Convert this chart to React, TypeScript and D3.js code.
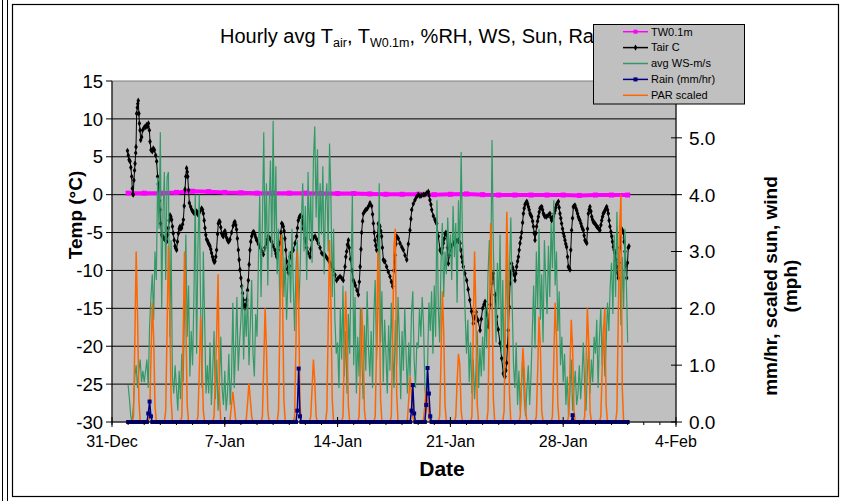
import React from "react";
import * as d3 from "d3";

// ---------------- DATA ----------------
// time unit: days since 31-Dec 00:00
const X_TICK_DAYS = [0, 7, 14, 21, 28, 35];
const X_TICK_LABELS = ["31-Dec", "7-Jan", "14-Jan", "21-Jan", "28-Jan", "4-Feb"];
const Y_LEFT_TICKS = [15, 10, 5, 0, -5, -10, -15, -20, -25, -30];
const Y_RIGHT_TICKS = [0, 1, 2, 3, 4, 5, 6];
const Y_RIGHT_LABELS = ["0.0", "1.0", "2.0", "3.0", "4.0", "5.0", ""];

// Water temperature at 0.1 m (deg C), one value per day starting 1-Jan
const TW_START_DAY = 1;
const TW01M = [
  0.2, 0.2, 0.2, 0.3, 0.45, 0.4, 0.3, 0.25, 0.2, 0.2, 0.2, 0.2, 0.15, 0.15, 0.15, 0.1,
  0.05, 0.05, 0.05, 0.0, 0.05, 0.1, 0.0, -0.05, -0.05, -0.05, -0.05, -0.05, -0.1, -0.05, -0.05, -0.05,
];

// Air temperature (deg C): [day, value]
const TAIR: [number, number][] = [
  [0.96,5.8],[1.01,5.2],[1.06,4.6],[1.12,4.4],[1.17,3.6],[1.22,2.4],[1.26,0.8],[1.29,0.1],[1.32,0.0],[1.36,1.9],
  [1.40,3.2],[1.43,4.1],[1.47,5.5],[1.49,6.3],[1.53,10.7],[1.57,11.5],[1.60,12.0],[1.63,12.4],[1.67,10.7],[1.70,9.4],
  [1.74,8.5],[1.78,7.2],[1.84,7.6],[1.90,8.5],[1.98,8.8],[2.05,9.0],[2.10,8.9],[2.15,9.2],[2.22,9.0],[2.26,9.4],
  [2.32,8.5],[2.36,7.0],[2.42,5.9],[2.50,5.7],[2.56,6.1],[2.63,5.9],[2.71,5.2],[2.77,4.4],[2.83,2.4],[2.87,1.4],
  [2.91,0.6],[2.95,-0.8],[2.98,-2.0],[3.02,-3.8],[3.08,-5.3],[3.13,-5.5],[3.18,-5.7],[3.24,-5.8],[3.29,-5.9],[3.34,-6.0],
  [3.39,-6.2],[3.45,-5.3],[3.50,-4.4],[3.55,-3.4],[3.60,-2.7],[3.65,-2.9],[3.70,-3.3],[3.75,-4.2],[3.80,-5.1],[3.86,-6.0],
  [3.91,-6.8],[3.96,-7.1],[4.01,-7.3],[4.06,-6.2],[4.12,-5.1],[4.17,-4.5],[4.22,-4.2],[4.27,-4.5],[4.32,-4.4],[4.38,-3.9],
  [4.43,-3.3],[4.48,-1.5],[4.53,0.7],[4.58,2.4],[4.63,3.5],[4.67,3.0],[4.70,2.4],[4.75,0.6],[4.80,-1.1],[4.88,-1.6],
  [4.95,-2.0],[5.01,-2.2],[5.08,-2.4],[5.15,-2.5],[5.20,-2.3],[5.25,-2.2],[5.30,-2.5],[5.36,-2.7],[5.46,-2.2],[5.56,-1.8],
  [5.62,-2.0],[5.67,-2.5],[5.72,-3.4],[5.77,-4.4],[5.82,-5.3],[5.87,-5.9],[5.93,-6.1],[5.98,-6.4],[6.03,-6.6],[6.08,-6.8],
  [6.13,-7.2],[6.18,-7.7],[6.24,-8.2],[6.29,-8.6],[6.34,-8.9],[6.39,-8.8],[6.44,-8.2],[6.49,-7.3],[6.55,-5.2],[6.60,-3.8],
  [6.65,-3.5],[6.70,-3.6],[6.75,-4.3],[6.80,-5.1],[6.86,-5.4],[6.91,-5.5],[6.96,-5.0],[7.01,-4.8],[7.06,-5.2],[7.11,-5.7],
  [7.17,-6.0],[7.22,-6.2],[7.27,-6.1],[7.32,-5.9],[7.42,-5.0],[7.52,-4.1],[7.58,-3.7],[7.63,-3.6],[7.68,-4.0],[7.73,-4.6],
  [7.78,-5.8],[7.84,-7.3],[7.89,-8.6],[7.94,-9.9],[8.00,-11.0],[8.05,-12.1],[8.10,-13.0],[8.15,-13.9],[8.20,-14.6],[8.25,-15.0],
  [8.30,-14.6],[8.36,-13.9],[8.41,-12.6],[8.46,-11.3],[8.51,-9.2],[8.56,-7.3],[8.61,-6.2],[8.67,-5.5],[8.72,-5.1],[8.77,-4.9],
  [8.82,-5.0],[8.87,-5.3],[8.93,-5.7],[8.98,-6.0],[9.08,-6.5],[9.18,-6.9],[9.29,-7.4],[9.39,-7.9],[9.49,-7.0],[9.60,-6.4],
  [9.65,-5.9],[9.70,-5.5],[9.80,-5.8],[9.91,-6.2],[10.01,-6.8],[10.11,-7.3],[10.17,-7.8],[10.22,-8.2],[10.32,-7.3],[10.42,-6.4],
  [10.48,-5.0],[10.53,-3.8],[10.58,-3.9],[10.63,-4.2],[10.68,-4.8],[10.73,-5.8],[10.78,-7.3],[10.84,-8.8],[10.89,-9.8],[10.94,-10.3],
  [11.00,-9.4],[11.05,-8.2],[11.15,-7.6],[11.25,-7.3],[11.36,-6.4],[11.46,-5.5],[11.51,-4.4],[11.56,-3.4],[11.62,-3.0],[11.67,-2.8],
  [11.72,-2.8],[11.77,-2.9],[11.82,-3.6],[11.87,-4.5],[11.97,-5.8],[12.08,-7.0],[12.18,-7.7],[12.29,-8.2],[12.34,-7.2],[12.39,-6.0],
  [12.49,-5.7],[12.60,-5.5],[12.70,-5.9],[12.80,-6.4],[12.91,-7.0],[13.01,-7.7],[13.11,-7.9],[13.22,-8.0],[13.32,-8.3],[13.42,-8.6],
  [13.52,-9.0],[13.63,-9.4],[13.73,-9.9],[13.84,-10.6],[13.94,-11.3],[14.04,-11.0],[14.15,-10.8],[14.25,-11.0],[14.35,-11.3],[14.46,-9.5],
  [14.51,-8.2],[14.56,-7.5],[14.61,-6.6],[14.67,-6.0],[14.72,-7.0],[14.80,-8.5],[14.89,-10.0],[14.98,-11.3],[15.04,-11.6],[15.10,-12.0],
  [15.20,-12.6],[15.29,-13.2],[15.35,-11.5],[15.40,-9.5],[15.45,-7.2],[15.49,-5.0],[15.55,-3.5],[15.60,-2.5],[15.68,-2.2],[15.75,-2.0],
  [15.85,-1.8],[15.93,-1.5],[16.01,-1.1],[16.11,-1.5],[16.17,-2.6],[16.22,-3.8],[16.27,-5.0],[16.32,-6.0],[16.37,-6.7],[16.42,-7.3],
  [16.48,-5.5],[16.53,-3.8],[16.58,-4.0],[16.63,-4.2],[16.68,-4.8],[16.73,-5.5],[16.78,-7.0],[16.84,-8.6],[16.89,-8.8],[16.94,-8.8],
  [17.04,-9.5],[17.15,-10.2],[17.25,-10.8],[17.34,-11.5],[17.42,-12.1],[17.49,-10.0],[17.56,-8.0],[17.62,-6.5],[17.67,-5.5],[17.77,-5.8],
  [17.87,-6.4],[17.98,-6.9],[18.08,-7.3],[18.18,-8.0],[18.29,-8.6],[18.39,-6.5],[18.49,-4.7],[18.55,-3.2],[18.60,-2.0],[18.70,-1.2],
  [18.80,-0.7],[18.90,-0.3],[19.01,0.0],[19.11,-0.2],[19.21,-0.1],[19.32,0.0],[19.42,0.0],[19.52,0.2],[19.63,0.4],[19.68,-0.1],
  [19.73,-0.7],[19.79,-1.3],[19.84,-2.0],[19.94,-2.8],[20.04,-3.3],[20.10,-3.6],[20.15,-3.8],[20.25,-5.5],[20.36,-7.3],[20.41,-7.5],
  [20.46,-7.7],[20.51,-7.0],[20.56,-6.4],[20.62,-5.8],[20.67,-5.2],[20.72,-5.0],[20.77,-5.2],[20.82,-7.0],[20.87,-9.1],[20.93,-8.0],
  [20.98,-7.3],[21.08,-6.8],[21.18,-6.4],[21.28,-6.2],[21.39,-6.1],[21.49,-6.0],[21.55,-6.2],[21.60,-6.4],[21.65,-7.3],[21.70,-8.2],
  [21.75,-8.9],[21.80,-9.5],[21.90,-10.4],[22.01,-11.3],[22.10,-12.5],[22.20,-13.9],[22.31,-15.4],[22.42,-17.0],[22.51,-16.2],[22.60,-15.5],
  [22.72,-16.6],[22.84,-17.9],[22.92,-16.4],[23.00,-15.0],[23.08,-14.5],[23.15,-14.1],[23.25,-15.8],[23.35,-17.4],[23.46,-14.5],[23.56,-11.7],
  [23.61,-11.0],[23.66,-10.4],[23.77,-13.2],[23.87,-16.1],[23.97,-17.8],[24.08,-19.6],[24.18,-21.6],[24.28,-23.6],[24.34,-23.9],[24.39,-24.0],
  [24.44,-23.2],[24.49,-22.2],[24.54,-20.0],[24.59,-17.9],[24.65,-14.8],[24.70,-11.7],[24.75,-10.4],[24.80,-9.1],[24.86,-9.6],[24.91,-10.0],
  [24.96,-10.6],[25.01,-11.3],[25.06,-10.4],[25.11,-9.5],[25.17,-8.8],[25.22,-8.2],[25.27,-7.3],[25.32,-6.4],[25.37,-5.7],[25.42,-5.0],
  [25.48,-3.7],[25.53,-2.5],[25.58,-1.8],[25.63,-1.3],[25.69,-1.1],[25.74,-0.9],[25.79,-1.2],[25.84,-1.6],[25.89,-2.0],[25.94,-2.5],
  [25.99,-2.7],[26.04,-2.9],[26.10,-3.5],[26.15,-4.2],[26.20,-5.1],[26.25,-6.0],[26.30,-5.1],[26.35,-4.2],[26.41,-3.5],[26.46,-2.9],
  [26.51,-2.3],[26.56,-1.8],[26.61,-1.7],[26.67,-1.6],[26.72,-2.0],[26.77,-2.5],[26.82,-2.7],[26.87,-2.9],[26.97,-2.9],[27.08,-2.7],
  [27.18,-2.5],[27.23,-3.0],[27.28,-3.4],[27.34,-3.1],[27.39,-2.9],[27.44,-2.5],[27.49,-2.1],[27.54,-1.7],[27.59,-1.3],[27.65,-1.1],
  [27.70,-0.9],[27.75,-1.7],[27.80,-2.5],[27.85,-3.1],[27.90,-3.8],[27.96,-4.5],[28.01,-5.1],[28.06,-5.5],[28.11,-6.0],[28.16,-6.5],
  [28.21,-6.9],[28.27,-8.2],[28.32,-9.5],[28.37,-9.7],[28.42,-9.9],[28.47,-7.3],[28.52,-4.7],[28.58,-3.1],[28.63,-1.6],[28.68,-1.5],
  [28.73,-1.4],[28.79,-1.8],[28.84,-2.1],[28.89,-2.5],[28.94,-2.9],[28.99,-3.2],[29.04,-3.4],[29.10,-3.8],[29.15,-4.2],[29.20,-4.5],
  [29.25,-4.7],[29.30,-5.4],[29.35,-6.0],[29.41,-6.2],[29.46,-6.4],[29.51,-4.5],[29.56,-2.5],[29.61,-2.0],[29.66,-1.6],[29.72,-2.2],
  [29.77,-2.9],[29.82,-3.3],[29.87,-3.6],[29.92,-3.7],[29.97,-3.8],[30.03,-4.0],[30.08,-4.2],[30.13,-4.3],[30.18,-4.4],[30.23,-4.6],
  [30.28,-4.7],[30.34,-4.0],[30.39,-3.4],[30.44,-2.9],[30.49,-2.5],[30.54,-2.3],[30.59,-2.1],[30.65,-1.8],[30.70,-1.6],[30.75,-2.0],
  [30.80,-2.5],[30.85,-3.4],[30.90,-4.2],[30.96,-4.9],[31.01,-5.5],[31.06,-6.2],[31.11,-6.9],[31.16,-7.3],[31.21,-7.7],[31.27,-8.6],
  [31.32,-9.5],[31.37,-10.3],[31.42,-11.0],[31.47,-9.0],[31.52,-7.0],[31.57,-5.7],[31.62,-4.5],[31.67,-4.7],[31.73,-5.0],[31.78,-6.2],
  [31.83,-7.5],[31.89,-9.3],[31.94,-11.0],[31.99,-9.0],[32.04,-7.0],[32.08,-6.8],
];

// Secondary-axis series on a 2-hour grid starting 1-Jan 00:00 (12 values per day)
const GRID_START_DAY = 1;
const GRID_STEP_HOURS = 2;

// avg wind speed (right axis)
const WS = [
  0.65,0.4,0.1,0.0,0.3,0.8,1.0,0.6,0.9,1.1,0.7,0.9,
  0.7,0.9,1.1,0.6,1.7,2.2,2.6,1.8,3.0,2.5,4.3,3.4,
  5.1,2.0,3.7,4.4,2.5,4.3,4.4,1.5,3.2,0.8,0.5,1.0,
  0.6,0.2,0.9,0.4,1.2,0.7,2.0,3.3,1.5,2.4,0.8,1.6,
  1.0,2.2,4.0,1.2,3.1,4.0,2.0,0.6,3.0,1.8,0.5,1.0,
  0.5,1.4,0.3,0.9,1.6,0.4,1.1,0.2,0.7,1.5,0.6,0.3,
  0.9,0.2,0.5,1.2,0.3,0.8,2.1,0.6,1.3,2.2,0.9,1.4,
  1.8,2.4,1.1,2.0,1.5,2.3,1.0,1.7,2.5,1.2,0.8,1.9,
  1.5,2.8,4.0,2.2,3.5,5.1,3.0,4.2,2.4,3.8,4.6,2.9,
  5.3,3.1,4.5,2.6,3.4,2.0,2.8,3.3,2.2,2.9,1.8,2.5,
  3.0,2.1,3.4,2.4,1.6,2.7,3.2,2.0,2.6,3.5,4.2,3.0,
  3.8,2.5,4.4,3.2,4.0,2.8,4.6,5.2,3.6,4.8,3.1,4.2,
  3.3,4.5,2.6,3.9,4.2,3.0,4.9,4.0,2.2,3.4,1.8,1.2,
  1.4,0.6,2.0,1.1,2.4,0.8,1.6,0.5,1.9,1.2,2.6,4.0,
  1.0,2.2,0.5,1.5,0.8,2.0,1.2,0.4,1.7,0.9,2.3,1.3,
  0.8,1.6,0.6,1.9,2.5,1.1,2.0,4.2,1.4,2.3,0.7,1.8,
  1.2,0.5,1.7,0.9,2.1,1.3,0.6,1.8,1.0,2.2,1.5,0.4,
  1.6,0.9,2.0,1.2,0.5,1.4,0.8,1.9,2.3,1.1,0.6,1.4,
  1.3,2.0,1.5,2.2,1.7,0.6,0.3,1.0,2.1,1.6,2.3,1.2,
  2.4,1.5,3.9,2.0,1.4,2.8,3.5,2.2,3.0,2.6,3.6,2.9,
  3.3,2.5,3.8,2.9,3.5,2.1,3.9,3.0,4.75,3.2,2.6,1.9,
  1.2,1.8,0.7,1.4,0.5,1.1,0.4,0.9,1.6,0.6,1.3,0.8,
  1.5,0.9,2.0,1.3,2.6,3.2,2.4,4.96,3.0,2.2,1.4,2.8,
  2.0,3.3,1.2,2.5,0.8,1.9,3.0,1.5,2.7,3.6,2.1,1.0,
  0.6,1.4,0.3,0.9,0.2,0.7,1.2,0.4,0.1,0.6,1.0,0.3,
  0.8,1.6,2.4,1.3,3.0,2.0,3.4,1.8,2.6,1.4,3.2,2.5,
  1.9,3.1,2.2,3.5,2.7,3.9,2.4,3.0,1.6,2.3,1.0,1.5,
  0.7,1.2,0.3,0.8,0.1,0.5,1.1,0.2,0.6,0.9,0.3,0.5,
  1.0,0.4,0.8,1.4,0.6,0.2,0.9,1.3,0.5,1.1,0.7,1.5,
  1.2,1.8,0.6,1.5,2.0,1.0,1.7,0.8,1.4,2.1,1.6,2.4,
  2.8,1.9,3.3,2.2,3.7,2.6,3.1,1.7,2.9,2.0,3.4,2.5,
  1.4,
];

// PAR scaled (right axis)
const PAR = [
  0,0,0,0,0.1,1.4,3.0,1.9,0.4,0,0,0,
  0,0,0,0,0.1,1.1,2.1,1.5,0.3,0,0,0,
  0,0,0,0,0.2,1.6,3.1,2.0,0.4,0,0,0,
  0,0,0,0,0.1,1.5,3.0,1.8,0.3,0,0,0,
  0,0,0,0,0.1,0.9,1.85,1.1,0.2,0,0,0,
  0,0,0,0,0.1,0.8,1.6,2.6,0.5,0,0,0,
  0,0,0,0,0.05,0.3,0.53,0.3,0.05,0,0,0,
  0,0,0,0,0.05,0.35,0.68,0.4,0.1,0,0,0,
  0,0,0,0,0.1,1.0,2.0,1.3,0.2,0,0,0,
  0,0,0,0,0.2,1.7,3.3,2.2,0.4,0,0,0,
  0,0,0,0,0.1,1.4,3.0,2.0,0.3,0,0,0,
  0,0,0,0,0.1,0.6,1.1,0.7,0.1,0,0,0,
  0,0,0,0,0.2,1.7,3.2,2.1,0.4,0,0,0,
  0,0,0,0,0.1,1.2,2.3,1.5,0.3,0,0,0,
  0,0,0,0,0.1,1.0,2.0,1.4,0.2,0,0,0,
  0,0,0,0,0.1,1.3,3.0,2.4,0.4,0,0,0,
  0,0,0,0,0.1,1.5,3.1,3.4,0.5,0,0,0,
  0,0,0,0,0.05,0.4,0.8,0.5,0.1,0,0,0,
  0,0,0,0,0.05,0.3,0.6,0.4,0.1,0,0,0,
  0,0,0,0,0.1,1.1,2.3,1.6,0.3,0,0,0,
  0,0,0,0,0.1,0.7,1.2,1.0,0.2,0,0,0,
  0,0,0,0,0.1,1.6,3.0,1.9,0.3,0,0,0,
  0,0,0,0,0.2,1.8,3.5,2.3,0.4,0,0,0,
  0,0,0,0,0.2,1.9,3.7,2.5,0.5,0,0,0,
  0,0,0,0,0.1,0.7,1.3,0.9,0.2,0,0,0,
  0,0,0,0,0.1,0.9,1.85,1.3,0.2,0,0,0,
  0,0,0,0,0.1,1.1,2.1,1.5,0.3,0,0,0,
  0,0,0,0,0.1,0.9,1.8,1.3,0.2,0,0,0,
  0,0,0,0,0.1,1.0,2.0,1.4,0.2,0,0,0,
  0,0,0,0,0.1,0.9,1.6,2.0,0.3,0,0,0,
  0,0,0,0,0.2,1.8,3.4,4.0,0.6,0,0,0,
  0,
];

// Rain (mm/hr, right axis)
const RAIN = [
  0,0,0,0,0,0,0,0,0,0,0,0,
  0,0,0,0.15,0.36,0.1,0,0,0,0,0,0,
  0,0,0,0,0,0,0,0,0,0,0,0,
  0,0,0,0,0,0,0,0,0,0,0,0,
  0,0,0,0,0,0,0,0,0,0,0,0,
  0,0,0,0,0,0,0,0,0,0,0,0,
  0,0,0,0,0,0,0,0,0,0,0,0,
  0,0,0,0,0,0,0,0,0,0,0,0,
  0,0,0,0,0,0,0,0,0,0,0,0,
  0,0,0,0,0,0,0,0,0,0,0,0,
  0,0,0,0,0,0,0.2,0.94,0.1,0,0,0,
  0,0,0,0,0,0,0,0,0,0,0,0,
  0,0,0,0,0,0,0,0,0,0,0,0,
  0,0,0,0,0,0,0,0,0,0,0,0,
  0,0,0,0,0,0,0,0,0,0,0,0,
  0,0,0,0,0,0,0,0,0,0,0,0,
  0,0,0,0,0,0,0,0,0,0,0,0,
  0,0,0,0,0,0,0,0.2,0.65,0.15,0,0,
  0,0,0,0,0,0,0.3,0.95,0.5,0.1,0,0,
  0,0,0,0,0,0,0,0,0,0,0,0,
  0,0,0,0,0,0,0,0,0,0,0,0,
  0,0,0,0,0,0,0,0,0,0,0,0,
  0,0,0,0,0,0,0,0,0,0,0,0,
  0,0,0,0,0,0,0,0,0,0,0,0,
  0,0,0,0,0,0,0,0,0,0,0,0,
  0,0,0,0,0,0,0,0,0,0,0,0,
  0,0,0,0,0,0,0,0,0,0,0,0,
  0,0,0,0,0,0,0,0.12,0,0,0,0,
  0,0,0,0,0,0,0,0,0,0,0,0,
  0,0,0,0,0,0,0,0,0,0,0,0,
  0,0,0,0,0,0,0,0,0,0,0,0,
  0,
];

const LEGEND = [
  { label: "TW0.1m", color: "#FF00FF", marker: "square" },
  { label: "Tair C", color: "#000000", marker: "diamond" },
  { label: "avg WS-m/s", color: "#339966", marker: "none" },
  { label: "Rain (mm/hr)", color: "#000080", marker: "square" },
  { label: "PAR scaled", color: "#FF6600", marker: "none" },
];

// ---------------- CHART ----------------
const FONT = "'Liberation Sans', Arial, Helvetica, sans-serif";

export default function App() {
  const W = 842, H = 501;
  const pl = 112, pr = 676, pt = 81, pb = 422;

  const x = d3.scaleLinear().domain([0, 35]).range([pl, pr]);
  const yL = d3.scaleLinear().domain([-30, 15]).range([pb, pt]);
  const yR = d3.scaleLinear().domain([0, 6]).range([pb, pt]);

  const gridDay = (i: number) => GRID_START_DAY + (i * GRID_STEP_HOURS) / 24;

  const tw: [number, number][] = TW01M.map((v, i) => [TW_START_DAY + i, v]);
  const lineL = d3.line<[number, number]>().x((d) => x(d[0])).y((d) => yL(d[1]));
  const lineR = d3.line<number>().x((_, i) => x(gridDay(i))).y((d) => yR(d));

  const diamond = d3.symbol().type(d3.symbolDiamond).size(11)() as string;

  const minorDays = d3.range(0, 36);

  return (
    <svg width={W} height={H} style={{ position: "absolute", left: 0, top: 0, background: "#fff" }} fontFamily={FONT}>
      <defs>
        <clipPath id="plotclip">
          <rect x={pl} y={pt - 2} width={pr - pl} height={pb - pt + 4} />
        </clipPath>
      </defs>
      {/* outer frames */}
      <line x1={2.5} y1={0} x2={2.5} y2={H} stroke="#000" strokeWidth={1} />
      <line x1={7.5} y1={0} x2={7.5} y2={H} stroke="#000" strokeWidth={1} />
      <rect x={12.5} y={4.5} width={826} height={492} fill="#fff" stroke="#000" strokeWidth={1.2} />

      {/* title */}
      <text x={220} y={43} fontSize={20} fill="#000">
        Hourly avg T<tspan fontSize={12.5} dy={4}>air</tspan>
        <tspan dy={-4}>, T</tspan>
        <tspan fontSize={12.5} dy={4}>W0.1m</tspan>
        <tspan dy={-4}>, %RH, WS, Sun, Rain</tspan>
      </text>

      {/* plot area */}
      <rect x={pl} y={pt} width={pr - pl} height={pb - pt} fill="#C0C0C0" stroke="#808080" strokeWidth={1} />
      {Y_LEFT_TICKS.filter((t) => t > -30 && t < 15).map((t) => (
        <line key={"g" + t} x1={pl} x2={pr} y1={yL(t)} y2={yL(t)} stroke="#000" strokeWidth={1} />
      ))}

      {/* series */}
      <g clipPath="url(#plotclip)">
        <path d={lineL(tw) || ""} fill="none" stroke="#FF00FF" strokeWidth={4} />
        {tw.map((d, i) => (
          <rect key={"tw" + i} x={x(d[0]) - 2.5} y={yL(d[1]) - 2.5} width={5} height={5} fill="#FF00FF" />
        ))}
        <path d={lineL(TAIR) || ""} fill="none" stroke="#000" strokeWidth={1} />
        {TAIR.map((d, i) => (
          <path key={"ta" + i} d={diamond} transform={`translate(${x(d[0])},${yL(d[1])})`} fill="#000" />
        ))}
        <path d={lineR(WS) || ""} fill="none" stroke="#339966" strokeWidth={1.2} />
        <path d={lineR(PAR) || ""} fill="none" stroke="#FF6600" strokeWidth={1.5} />
        <path d={lineR(RAIN) || ""} fill="none" stroke="#000080" strokeWidth={1.5} />
        {RAIN.map((v, i) => (
          <rect key={"r" + i} x={x(gridDay(i)) - 2} y={yR(v) - 2} width={4} height={4} fill="#000080" />
        ))}
      </g>

      {/* axes */}
      <line x1={pl} x2={pl} y1={pt} y2={pb} stroke="#000" />
      <line x1={pr} x2={pr} y1={pt} y2={pb} stroke="#000" />
      <line x1={pl} x2={pr} y1={pb} y2={pb} stroke="#000" />
      {Y_LEFT_TICKS.map((t) => (
        <g key={"yl" + t}>
          <line x1={pl - 6} x2={pl} y1={yL(t)} y2={yL(t)} stroke="#000" />
          <text x={pl - 9} y={yL(t)} dy="0.36em" textAnchor="end" fontSize={18.5}>{t}</text>
        </g>
      ))}
      {Y_RIGHT_TICKS.map((t, i) => (
        <g key={"yr" + t}>
          <line x1={pr - 5} x2={pr + 6} y1={yR(t)} y2={yR(t)} stroke="#000" />
          {Y_RIGHT_LABELS[i] && (
            <text x={pr + 13} y={yR(t)} dy="0.36em" textAnchor="start" fontSize={19}>{Y_RIGHT_LABELS[i]}</text>
          )}
        </g>
      ))}
      {minorDays.map((d) => (
        <line key={"mx" + d} x1={x(d)} x2={x(d)} y1={pb} y2={pb + 3} stroke="#000" />
      ))}
      {X_TICK_DAYS.map((d, i) => (
        <g key={"xt" + d}>
          <line x1={x(d)} x2={x(d)} y1={pb - 5} y2={pb + 5} stroke="#000" />
          <text x={x(d)} y={447} textAnchor="middle" fontSize={16}>{X_TICK_LABELS[i]}</text>
        </g>
      ))}

      {/* axis titles */}
      <text x={442} y={476} textAnchor="middle" fontSize={21} fontWeight="bold">Date</text>
      <text transform="translate(82,215) rotate(-90)" textAnchor="middle" fontSize={19} fontWeight="bold">Temp (°C)</text>
      <text transform="translate(777,286) rotate(-90)" textAnchor="middle" fontSize={19} fontWeight="bold">mm/hr, scaled sun, wind</text>
      <text transform="translate(797,286) rotate(-90)" textAnchor="middle" fontSize={19} fontWeight="bold">(mph)</text>

      {/* legend */}
      <rect x={593.5} y={24.5} width={151} height={79.5} fill="#C0C0C0" stroke="#000" strokeWidth={1} />
      {LEGEND.map((e, i) => {
        const ly = 31.7 + i * 15.9;
        return (
          <g key={"lg" + i}>
            <line x1={623} x2={648} y1={ly} y2={ly} stroke={e.color} strokeWidth={1.5} />
            {e.marker === "square" && <rect x={633.5} y={ly - 2} width={4} height={4} fill={e.color} />}
            {e.marker === "diamond" && <path d={diamond} transform={`translate(635.5,${ly})`} fill={e.color} />}
            <text x={651} y={ly} dy="0.35em" fontSize={11}>{e.label}</text>
          </g>
        );
      })}
    </svg>
  );
}
